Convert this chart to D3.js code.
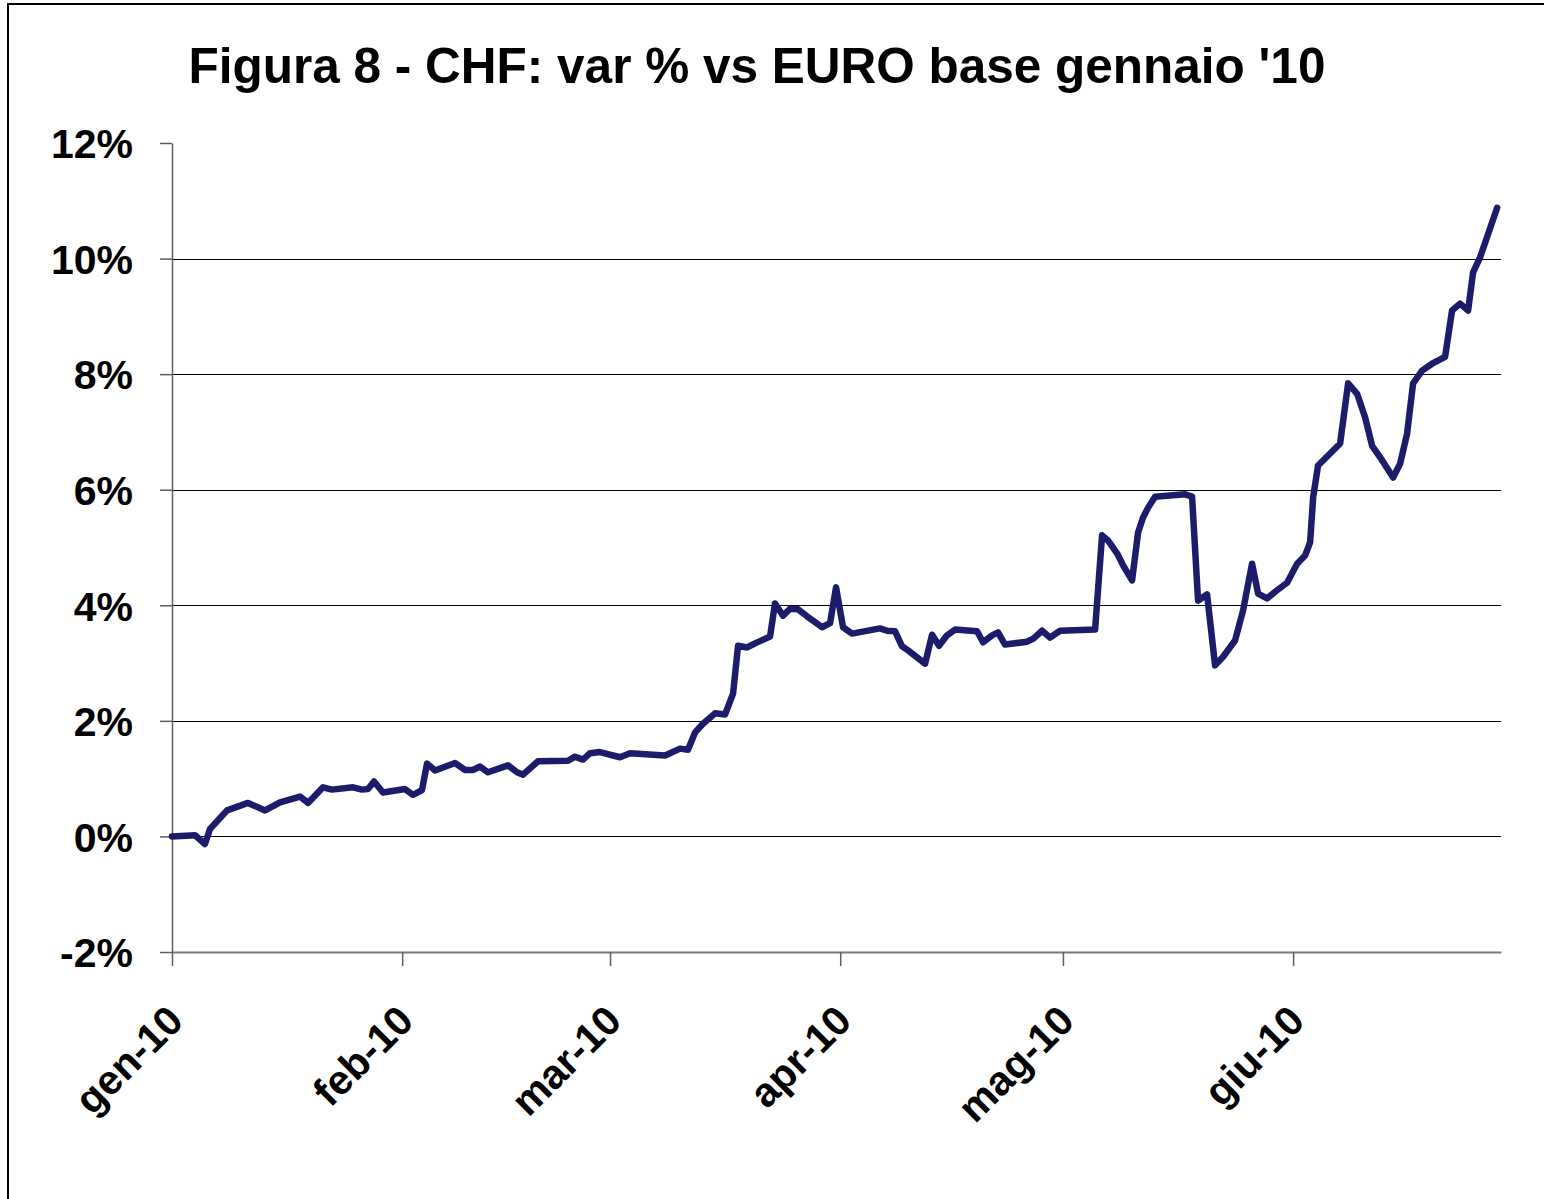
<!DOCTYPE html>
<html><head><meta charset="utf-8">
<script src="https://cdn.jsdelivr.net/npm/d3@7"></script>
<style>body{margin:0;background:#fff}svg{display:block}</style></head>
<body><svg id="c" width="1544" height="1199"></svg>
<script>
const titleText = "Figura 8 - CHF: var % vs EURO base gennaio '10";
const startDate = "2010-01-01";
const endDate = "2010-06-29";
const monthTicks = ["2010-01-01","2010-02-01","2010-03-01","2010-04-01","2010-05-01","2010-06-01"];
const monthLabels = ["gen-10","feb-10","mar-10","apr-10","mag-10","giu-10"];
const yTicks = [-2,0,2,4,6,8,10,12];
const gridTicks = [0,2,4,6,8,10];
// days elapsed since 1 Jan 2010
const dayOffsets = [0,3.1,4.44,5.12,6.2,7.41,10.24,12.53,14.55,17.24,18.32,20.34,21.55,24.38,25.59,26.4,27.21,28.42,31.38,32.46,33.67,34.35,35.43,38.12,39.47,40.54,41.49,42.56,45.26,46.47,47.28,49.3,53.34,54.28,55.36,56.3,57.65,60.34,61.69,66.41,68.43,69.5,70.45,71.52,73.14,74.49,75.57,76.24,77.46,78.53,80.55,81.22,82.3,83.24,84.32,85.53,87.55,88.63,89.44,90.38,91.59,95.37,96.31,97.39,98.33,99.14,101.43,102.37,103.31,104.39,105.47,108.43,109.24,110.45,111.26,112.2,115.17,115.98,117.19,118.26,119.61,124.33,125.27,126.08,127.29,128.1,129.31,130.12,130.79,131.47,132.41,136.45,137.39,138.2,139.41,140.49,141.57,143.18,144.26,145.47,146.28,147.49,148.84,150.19,151.54,152.61,153.29,153.7,154.36,157.33,158.41,159.62,160.7,161.64,162.72,164.47,165.41,166.35,167.16,168.37,169.72,171.47,172.41,173.49,174.57,175.24,176.18,178.48];
const pctValues = [0,0.02,-0.13,0.13,0.28,0.45,0.58,0.45,0.59,0.69,0.58,0.85,0.81,0.85,0.81,0.82,0.95,0.76,0.82,0.72,0.8,1.26,1.14,1.27,1.15,1.15,1.21,1.11,1.23,1.11,1.07,1.3,1.31,1.38,1.33,1.44,1.46,1.37,1.44,1.4,1.52,1.5,1.8,1.95,2.13,2.11,2.47,3.3,3.27,3.34,3.46,4.03,3.82,3.94,3.93,3.81,3.62,3.69,4.31,3.62,3.51,3.6,3.56,3.55,3.29,3.22,2.99,3.49,3.3,3.48,3.58,3.55,3.36,3.48,3.53,3.32,3.37,3.42,3.56,3.44,3.56,3.58,5.21,5.12,4.9,4.69,4.43,5.26,5.52,5.69,5.88,5.92,5.88,4.08,4.19,2.96,3.11,3.39,3.91,4.72,4.2,4.12,4.26,4.39,4.72,4.86,5.09,5.87,6.42,6.8,7.84,7.66,7.25,6.76,6.56,6.21,6.45,6.97,7.84,8.06,8.18,8.3,9.1,9.22,9.1,9.76,10.02,10.88];

const svg = d3.select("#c");
const FONT = "'Liberation Sans', Arial, sans-serif";
const pLeft = 172, pRight = 1501, pTop = 143, pBottom = 952;
const parse = d3.utcParse("%Y-%m-%d");
const t0 = parse(startDate);
const x = d3.scaleUtc().domain([t0, parse(endDate)]).range([pLeft, pRight]);
const y = d3.scaleLinear().domain([-2, 12]).range([pBottom, pTop]);

// outer frame (left and top edges visible)
svg.append("rect").attr("x", 8).attr("y", 4).attr("width", 1600).attr("height", 1300)
  .attr("fill", "none").attr("stroke", "#000").attr("stroke-width", 2);

// title
svg.append("text").attr("x", 757).attr("y", 83).attr("text-anchor", "middle")
  .style("font-family", FONT).style("font-weight", "bold").style("font-size", "49.5px")
  .text(titleText);

// gridlines
svg.append("g").selectAll("line").data(gridTicks).join("line")
  .attr("x1", pLeft).attr("x2", pRight)
  .attr("y1", d => Math.round(y(d)) + 0.5).attr("y2", d => Math.round(y(d)) + 0.5)
  .attr("stroke", "#000").attr("stroke-width", 1);

// y axis
const yAxis = svg.append("g").attr("transform", `translate(${pLeft},0)`)
  .call(d3.axisLeft(y).tickValues(yTicks).tickSize(12).tickSizeOuter(0).tickPadding(27).tickFormat(d => d + "%"));
yAxis.select(".domain").attr("stroke", "#5e5e5e").attr("stroke-width", 1.5);
yAxis.selectAll(".tick line").attr("stroke", "#5e5e5e").attr("stroke-width", 1.5);
yAxis.selectAll("text").style("font-family", FONT).style("font-weight", "bold")
  .style("font-size", "41px").attr("fill", "#000").attr("dy", "0.36em");

// x axis
const xAxis = svg.append("g").attr("transform", `translate(0,${pBottom})`)
  .call(d3.axisBottom(x).tickValues(monthTicks.map(parse)).tickSize(14).tickSizeOuter(0)
    .tickFormat((d, i) => monthLabels[i]));
xAxis.select(".domain").attr("stroke", "#7a7a7a").attr("stroke-width", 2);
xAxis.selectAll(".tick line").attr("stroke", "#5e5e5e").attr("stroke-width", 1.5);
xAxis.selectAll("text").style("font-family", FONT).style("font-weight", "bold")
  .style("font-size", "41px").attr("fill", "#000")
  .attr("x", 0).attr("y", 0).attr("dy", 0)
  .attr("transform", "translate(13,71) rotate(-45)")
  .style("text-anchor", "end");

// data line
const pts = dayOffsets.map((d, i) => ({ date: new Date(t0.getTime() + d * 864e5), v: pctValues[i] }));
const line = d3.line().x(d => x(d.date)).y(d => y(d.v));
svg.append("path").datum(pts).attr("d", line)
  .attr("fill", "none").attr("stroke", "#1c1c6b").attr("stroke-width", 6.5)
  .attr("stroke-linejoin", "round").attr("stroke-linecap", "round");
</script>
</body></html>
